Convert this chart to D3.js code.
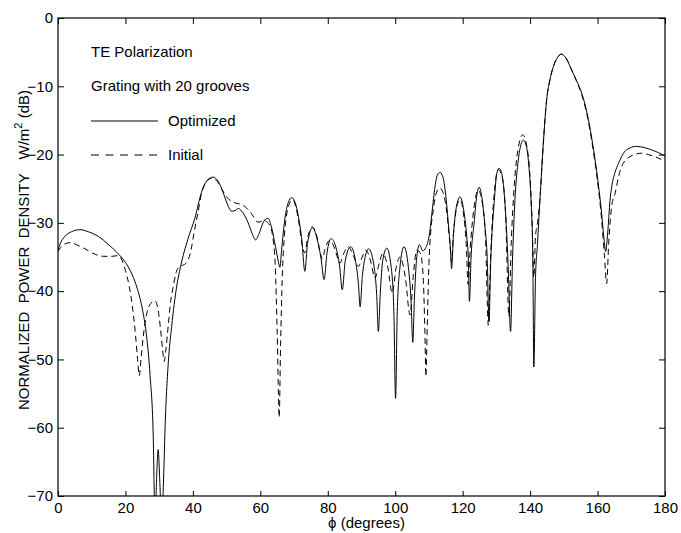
<!DOCTYPE html>
<html>
<head>
<meta charset="utf-8">
<script src="https://cdn.jsdelivr.net/npm/d3@7"></script>
<style>
  html, body { margin: 0; padding: 0; background: #fff; }
  svg { display: block; font-family: "Liberation Sans", Arial, sans-serif; }
</style>
</head>
<body>
<svg id="chart" width="681" height="533"></svg>
<script>
// ---- data (angle in degrees, normalized power density in dB) ----
const xTicks = [0, 20, 40, 60, 80, 100, 120, 140, 160, 180];
const yTicks = [0, -10, -20, -30, -40, -50, -60, -70];

const optimized = [
  [0,-34.0],[0.7,-33.0],[2,-32.0],[4,-31.3],[6.5,-31.0],[9,-31.3],[12,-32.0],[15,-33.2],[18,-34.6],
  [20,-35.8],[22,-37.6],[23.5,-39.6],[25,-42.6],[26.2,-46.3],[27.3,-52.3],[28.2,-60.5],[28.8,-74],
  [29.2,-68],[29.7,-63.2],[30.2,-68],[30.7,-74],[31.4,-66],[31.7,-60.8],[32.7,-50.5],[33.7,-45.2],
  [35.2,-39.3],[36.3,-36.5],[38.5,-32.4],[40.6,-29.3],[42.5,-25.6],[44.2,-23.8],[46,-23.3],[47.5,-23.9],
  [49,-25.6],[50.5,-27.6],[51.5,-28.3],[52.5,-28.2],[53.5,-27.9],[54.8,-28.5],[56.4,-30.0],[57.6,-31.6],
  [58.6,-32.5],[59.6,-31.6],[61,-29.8],[62.2,-29.3],[63.3,-30.6],[64.5,-33.5],[65.4,-35.8],[65.8,-36.5],
  [66.3,-34],[67.3,-29.3],[68.3,-27],[69.3,-26.3],[70.3,-27],[71.3,-29.1],[72.3,-32.5],[73.2,-37.1],
  [74,-33],[75.5,-30.7],[76.8,-32.3],[78,-35.2],[78.9,-38.3],[79.8,-34.3],[81,-32.3],[82.3,-33.4],
  [83.5,-36.3],[84.3,-39.8],[85.2,-35.5],[86.8,-33.5],[88.2,-35.5],[89.1,-39],[89.6,-42.3],[90.3,-37.5],
  [92.1,-33.8],[93.6,-36],[94.5,-40.5],[95,-45.9],[95.6,-40],[96.3,-35.5],[97.5,-33.7],[98.8,-36.5],
  [99.6,-43],[100.1,-55.7],[100.6,-43],[101.4,-36.5],[102.6,-33.5],[103.9,-36.5],[104.7,-41.5],
  [105.2,-47.5],[105.7,-41],[106.3,-35.5],[107.2,-33.2],[108.2,-34.1],[109.1,-33.6],[110.2,-31.5],
  [110.9,-28.5],[111.8,-24.7],[112.5,-23],[113.3,-22.6],[114.2,-23.4],[115.1,-26.5],[115.9,-31],
  [116.4,-34],[116.7,-36.7],[117.3,-31.5],[118.2,-27.5],[119.2,-26.2],[120.2,-27.8],[121.2,-32],
  [121.7,-35.5],[122,-41.5],[122.5,-35],[123.4,-30],[124.1,-26.3],[124.9,-24.8],[125.7,-26.3],
  [126.6,-30.5],[127.3,-35.5],[127.8,-44.5],[128.3,-36],[129.4,-26.7],[130.1,-22.8],[130.8,-22.0],
  [131.6,-22.8],[132.6,-27.6],[133.5,-36.4],[134.2,-45.9],[134.8,-35],[135.5,-26.7],[136.5,-20.8],
  [137.3,-18.5],[138,-17.9],[138.8,-18.6],[139.6,-21.5],[140.3,-27],[140.8,-35],[141.1,-51.1],
  [141.6,-38],[142.2,-33],[142.9,-26.7],[143.9,-18.5],[144.9,-12.0],[145.9,-9.0],[146.9,-7.1],
  [148.1,-5.8],[149.3,-5.3],[150.8,-6.0],[152.3,-7.6],[153.8,-9.2],[155.3,-11.0],[157.3,-14.9],
  [158.5,-18.3],[159.7,-22.3],[161.2,-28.6],[161.9,-32.3],[162.4,-34.2],[163,-31.5],[163.7,-26.7],
  [164.2,-24.7],[165.2,-22.6],[166.2,-21.3],[168.6,-19.3],[171.6,-18.8],[174,-19.0],[176,-19.3],
  [178,-19.7],[180,-20.2]
];

const initial = [
  [0,-34.2],[0.8,-33.6],[2,-33.1],[3.6,-32.9],[5.5,-33.2],[8,-33.8],[11,-34.6],[13.5,-34.9],[16,-34.9],
  [17.8,-34.8],[19,-35.5],[20,-37],[21,-39],[22,-42],[23,-46.5],[23.6,-50],[24.1,-52.4],[24.6,-50],
  [25.2,-47],[26.3,-43.3],[27.5,-41.8],[28.7,-41.4],[29.6,-42.5],[30.4,-45.5],[31,-48.5],[31.5,-50.3],
  [32,-48.5],[32.7,-45],[33.4,-41.5],[34.2,-39.3],[35,-37.3],[35.8,-36.5],[37,-36.2],[38.2,-35.8],
  [39.3,-34.3],[40.5,-31.0],[41.5,-28.5],[42.6,-25.6],[44,-24],[45.5,-23.5],[47,-23.8],[48.5,-25],
  [50,-26.2],[52,-27],[53.5,-27.2],[55.4,-27.6],[57.3,-28.6],[59.3,-29.9],[61.2,-29.7],[62.8,-30.4],
  [63.8,-32.5],[64.4,-36],[65,-46],[65.6,-58.5],[66,-48],[66.5,-38],[67.2,-31.5],[68.4,-27.5],
  [69.5,-26.6],[70.6,-27.8],[71.6,-30.5],[72.5,-33.5],[73.2,-34.4],[73.9,-32.5],[75.3,-30.6],
  [76.8,-32],[77.8,-34.5],[78.4,-35.3],[79.2,-33.8],[80.5,-32.6],[81.6,-33.2],[82.7,-34.8],[83.6,-35.9],
  [84.7,-34.5],[86.1,-33.5],[87.6,-34.8],[89.1,-36.4],[90.2,-35],[91.3,-34],[92.7,-35.6],[94,-38.1],
  [95.2,-36],[96.3,-34.5],[97.8,-36.5],[99.1,-40.3],[100.3,-36.5],[101.4,-35],[103,-38],[104.4,-43.5],
  [105.4,-37.5],[106.4,-34],[107.5,-34.5],[108.3,-38],[108.8,-46],[109.1,-52.5],[109.5,-45],[110,-36],
  [110.5,-31.5],[111.2,-28.4],[112.2,-25.6],[113.2,-24.9],[114.2,-25.6],[115.3,-28.5],[116.2,-33],
  [116.7,-35.7],[117.2,-32],[118.2,-27.8],[119.2,-26.6],[120.2,-28.5],[121.1,-33.5],[121.6,-39],
  [122.2,-34],[123.3,-28],[124.6,-25.2],[125.8,-27],[126.8,-32.5],[127.6,-45],[128.3,-35],[129.3,-26],
  [130.6,-22.2],[131.8,-23.5],[132.8,-29.5],[133.7,-43.7],[134.4,-33],[135.3,-24.5],[136.5,-19],
  [137.8,-17.1],[139,-18.7],[140,-23.5],[140.6,-30],[141.1,-38],[141.6,-32],[142.2,-30],[142.9,-26.7],
  [143.9,-18.5],[144.9,-12.0],[145.9,-9.0],[146.9,-7.1],[148.1,-5.8],[149.3,-5.3],[150.8,-6.0],
  [152.3,-7.6],[153.8,-9.3],[155.3,-11.2],[157.3,-15.2],[158.5,-18.7],[159.7,-22.8],[161.2,-29.5],
  [162,-34.5],[162.7,-38.9],[163.3,-33],[164.2,-27.5],[165.2,-25.7],[166.2,-23.3],[167.1,-21.8],
  [169.6,-20.3],[173.1,-19.8],[175,-20.0],[177,-20.3],[180,-21.0]
];

const legendNotes = ["TE Polarization", "Grating with 20 grooves"];
const seriesNames = ["Optimized", "Initial"];

// ---- layout ----
const svg = d3.select("#chart");
const L = 58, R = 665, T = 18, B = 496;
const x = d3.scaleLinear().domain([0, 180]).range([L, R]);
const y = d3.scaleLinear().domain([-70, 0]).range([B, T]);

svg.append("rect").attr("width", 681).attr("height", 533).attr("fill", "#fff");

svg.append("defs").append("clipPath").attr("id", "plotclip")
  .append("rect").attr("x", L).attr("y", T).attr("width", R - L).attr("height", B - T);

const line = d3.line().x(d => x(d[0])).y(d => y(d[1])).curve(d3.curveMonotoneX);

const plot = svg.append("g").attr("clip-path", "url(#plotclip)");
plot.append("path").datum(initial).attr("d", line)
  .attr("fill", "none").attr("stroke", "#000").attr("stroke-width", 1)
  .attr("stroke-dasharray", "6,4");
plot.append("path").datum(optimized).attr("d", line)
  .attr("fill", "none").attr("stroke", "#000").attr("stroke-width", 1);

// ---- axes ----
const fmt = d3.format("d");
const axB = svg.append("g").attr("transform", `translate(0,${B})`)
  .call(d3.axisBottom(x).tickValues(xTicks).tickFormat(fmt).tickSize(-5).tickSizeOuter(0).tickPadding(6));
const axL = svg.append("g").attr("transform", `translate(${L},0)`)
  .call(d3.axisLeft(y).tickValues(yTicks).tickFormat(d => d === 0 ? "0" : fmt(d)).tickSize(-6).tickSizeOuter(0).tickPadding(5));
const axT = svg.append("g").attr("transform", `translate(0,${T})`)
  .call(d3.axisTop(x).tickValues(xTicks).tickFormat("").tickSize(-6).tickSizeOuter(0));
const axR = svg.append("g").attr("transform", `translate(${R},0)`)
  .call(d3.axisRight(y).tickValues(yTicks).tickFormat("").tickSize(-6).tickSizeOuter(0));

[axB, axL, axT, axR].forEach(g => {
  g.select(".domain").remove();
  g.selectAll("line").attr("stroke", "#000").attr("stroke-width", 1);
  g.selectAll("text").attr("fill", "#000").style("font-size", "15px")
    .style("font-family", '"Liberation Sans", Arial, sans-serif');
});

svg.append("rect").attr("x", L).attr("y", T).attr("width", R - L).attr("height", B - T)
  .attr("fill", "none").attr("stroke", "#000").attr("stroke-width", 1.2);

// ---- axis titles ----
svg.append("text").attr("x", (L + R) / 2 + 5).attr("y", 528).attr("text-anchor", "middle")
  .style("font-size", "15px").text("\u03D5  (degrees)");

const yl = svg.append("g").attr("transform", "translate(29,0) rotate(-90)");
yl.append("text").attr("x", -410).attr("y", 0).attr("text-anchor", "start")
  .style("font-size", "15px").attr("xml:space", "preserve").text("NORMALIZED  POWER  DENSITY");
const yl2 = yl.append("text").attr("x", -90).attr("y", 0).attr("text-anchor", "end").style("font-size", "15px");
yl2.append("tspan").text("W/m");
yl2.append("tspan").attr("dy", -7).style("font-size", "11px").text("2");
yl2.append("tspan").attr("dy", 7).text(" (dB)");

// ---- legend / annotations ----
const lg = svg.append("g").style("font-size", "15px");
lg.append("text").attr("x", 91).attr("y", 57).text(legendNotes[0]);
lg.append("text").attr("x", 91).attr("y", 91).text(legendNotes[1]);
lg.append("line").attr("x1", 91).attr("x2", 158).attr("y1", 121).attr("y2", 121)
  .attr("stroke", "#000").attr("stroke-width", 1);
lg.append("text").attr("x", 168).attr("y", 126).text(seriesNames[0]);
lg.append("line").attr("x1", 91).attr("x2", 158).attr("y1", 155).attr("y2", 155)
  .attr("stroke", "#000").attr("stroke-width", 1).attr("stroke-dasharray", "8,6.5");
lg.append("text").attr("x", 168).attr("y", 160).text(seriesNames[1]);
</script>
</body>
</html>
